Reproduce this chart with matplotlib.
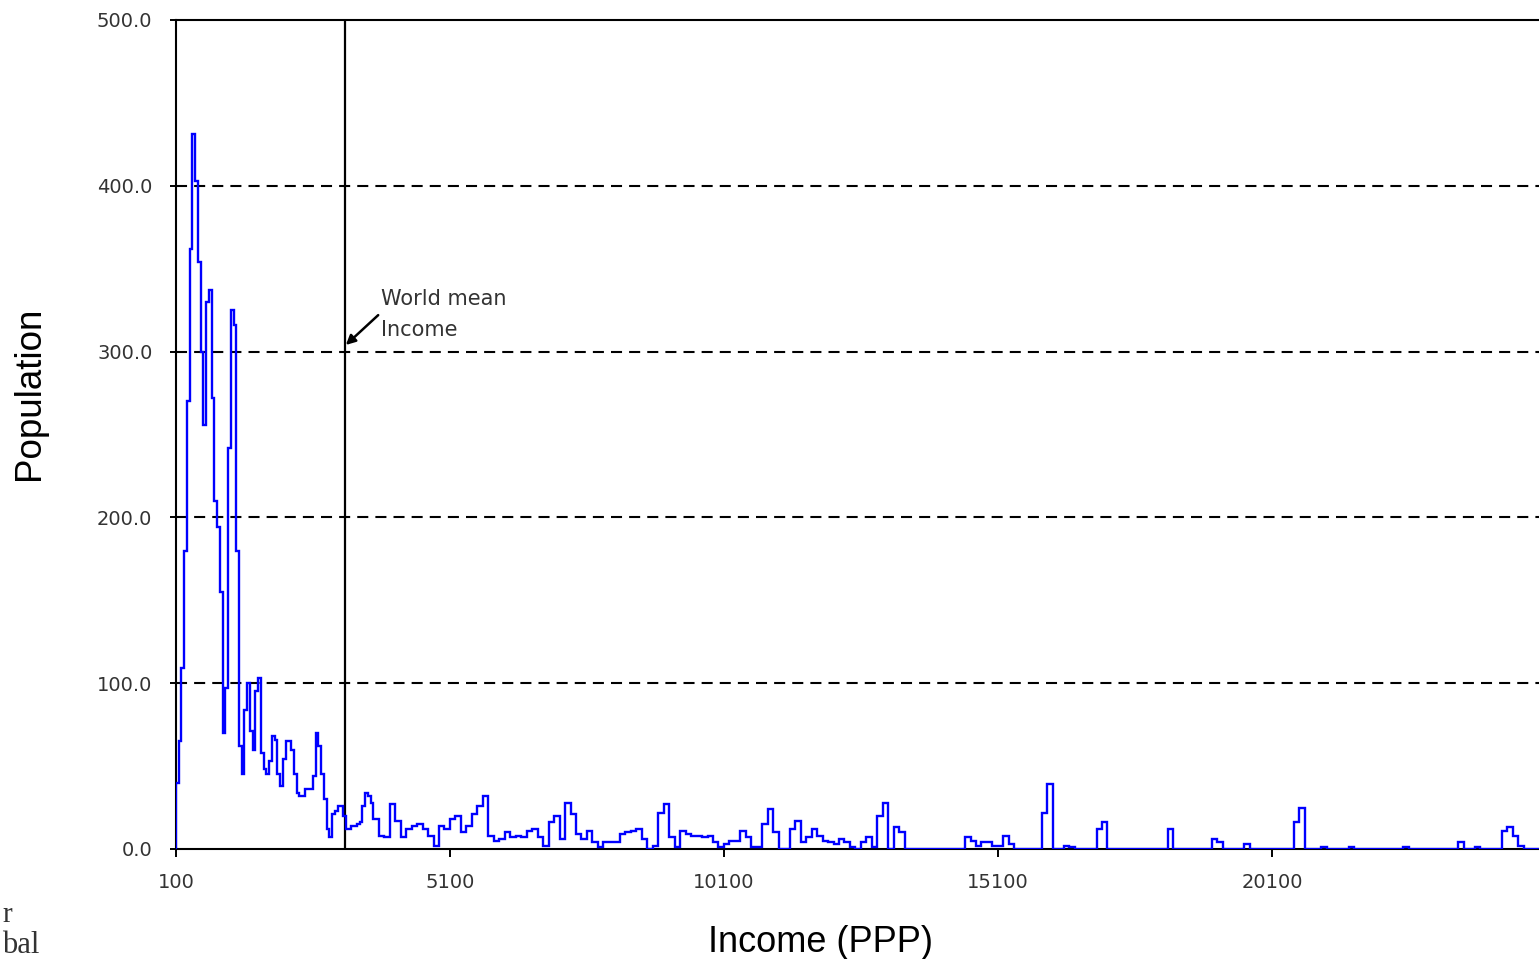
import numpy as np
import matplotlib
matplotlib.use("Agg")
import matplotlib.pyplot as plt

# population per income bin
# fine bins: 50 PPP wide, starting at 100
FINE_START = 100
FINE_WIDTH = 50
fine_counts = [
    40, 65, 109, 180, 270, 362, 431, 403, 354, 300,
    256, 330, 337, 272, 210, 194, 155, 70, 97, 242,
    325, 316, 180, 62, 45, 84, 100, 71, 60, 95,
    103, 58, 48, 45, 53, 68, 66, 45, 38, 54,
    65, 65, 60, 45, 34, 32, 32, 36, 36, 36,
    44, 70, 62, 45, 30, 12, 7, 21, 23, 26,
    26, 20, 12, 12, 14, 14, 15, 16, 26, 34,
    32, 28,
]

# coarse bins: 100 PPP wide, starting at 3700
COARSE_WIDTH = 100
coarse_counts = [
    18, 8, 7, 27, 17, 7, 12, 14, 15, 12,      # 3700
    8, 2, 14, 12, 18, 20, 10, 14, 21, 26,     # 4700
    32, 8, 5, 6, 10, 7, 8, 7, 11, 12,         # 5700
    7, 2, 16, 20, 6, 28, 21, 9, 6, 11,        # 6700
    4, 1, 4, 4, 4, 9, 10, 11, 12, 6,          # 7700
    0, 2, 22, 27, 7, 1, 11, 9, 8, 8,          # 8700
    7, 8, 4, 1, 3, 5, 5, 11, 7, 1,            # 9700
    1, 15, 24, 10, 0, 0, 12, 17, 4, 7,        # 10700
    12, 8, 5, 4, 3, 6, 4, 1, 0, 4,            # 11700
    7, 1, 20, 28, 0, 13, 10, 0, 0, 0,         # 12700
    0, 0, 0, 0, 0, 0, 0, 0, 7, 5,             # 13700
    2, 4, 4, 2, 2, 8, 3, 0, 0, 0,             # 14700
    0, 0, 22, 39, 0, 0, 2, 1, 0, 0,           # 15700
    0, 0, 12, 16, 0, 0, 0, 0, 0, 0,           # 16700
    0, 0, 0, 0, 0, 12, 0, 0, 0, 0,            # 17700
    0, 0, 0, 6, 4, 0, 0, 0, 0, 3,             # 18700
    0, 0, 0, 0, 0, 0, 0, 0, 16, 25,           # 19700
    0, 0, 0, 1, 0, 0, 0, 0, 1, 0,             # 20700
    0, 0, 0, 0, 0, 0, 0, 0, 1, 0,             # 21700
    0, 0, 0, 0, 0, 0, 0, 0, 4, 0,             # 22700
    0, 1, 0, 0, 0, 0, 11, 13, 8, 2,           # 23700
    0, 0, 0,                                  # 24700
]

WORLD_MEAN = 3180
x_ticks = [100, 5100, 10100, 15100, 20100]
y_ticks = [0, 100, 200, 300, 400, 500]
grid_levels = [100, 200, 300, 400]


def main():
    fine_edges = FINE_START + FINE_WIDTH * np.arange(len(fine_counts) + 1)
    coarse_start = fine_edges[-1]
    coarse_edges = coarse_start + COARSE_WIDTH * np.arange(1, len(coarse_counts) + 1)
    edges = np.concatenate([fine_edges, coarse_edges])
    counts = np.array(fine_counts + coarse_counts, dtype=float)

    fig = plt.figure(figsize=(15.39, 9.59), dpi=100)
    ax = fig.add_axes([176 / 1539, 110 / 959, 1363 / 1539, 829 / 959])

    for lvl in grid_levels:
        ax.axhline(lvl, color="black", lw=1.5, linestyle=(0, (5.3, 3.4)), zorder=1)

    ax.axvline(WORLD_MEAN, color="black", lw=1.6, zorder=2.6)

    ax.stairs(counts, edges, baseline=0, color="#0000ff", lw=1.7, zorder=3)

    ax.set_xlim(100, 24975)
    ax.set_ylim(0, 500)

    ax.set_xticks(x_ticks)
    ax.set_xticklabels([str(t) for t in x_ticks])
    ax.set_yticks(y_ticks)
    ax.set_yticklabels([f"{t:.1f}" for t in y_ticks])
    ax.tick_params(axis="y", direction="inout", length=8, width=1.4, pad=13,
                   labelsize=14, labelcolor="#333333")
    ax.tick_params(axis="x", direction="out", length=6, width=1.4, pad=11,
                   labelsize=14, labelcolor="#333333")

    for side in ["left", "bottom", "top"]:
        ax.spines[side].set_linewidth(1.5)
        ax.spines[side].set_color("black")
    ax.spines["right"].set_visible(False)

    # annotation for the mean
    ax.annotate("", xy=(WORLD_MEAN + 20, 304), xytext=(3790, 322),
                arrowprops=dict(arrowstyle="-|>", color="black", lw=1.8,
                                mutation_scale=14, shrinkA=0, shrinkB=0),
                zorder=4)
    ax.text(3840, 338, "World mean\nIncome", ha="left", va="top",
            fontsize=15, color="#333333", linespacing=1.7)

    fig.text(30 / 1539, 1 - 393 / 959, "Population", rotation=90,
             ha="center", va="center", fontsize=26.5, family="Liberation Sans")
    fig.text(820 / 1539, 1 - 942 / 959, "Income (PPP)",
             ha="center", va="center", fontsize=26, family="Liberation Sans")

    # cut-off slide text in the lower left corner
    fig.text(2 / 1539, 1 - 922 / 959, "r", ha="left", va="baseline",
             fontsize=21, family="Liberation Serif", color="#333333")
    fig.text(2 / 1539, 1 - 953 / 959, "bal", ha="left", va="baseline",
             fontsize=22, family="Liberation Serif", color="#333333")

    fig.savefig("out.png", dpi=100)


if __name__ == "__main__":
    main()
